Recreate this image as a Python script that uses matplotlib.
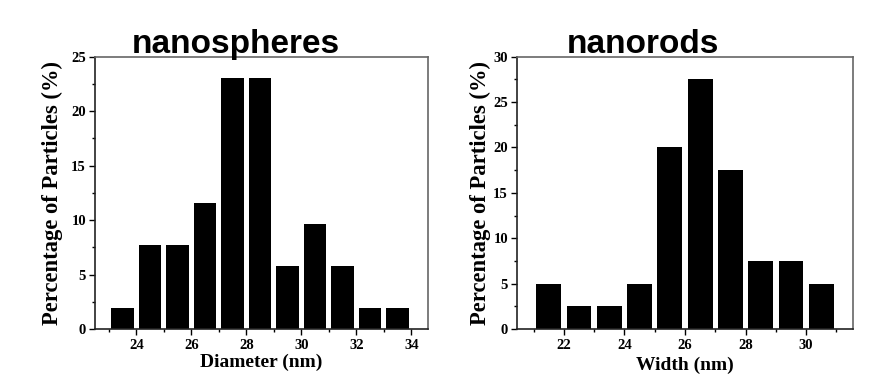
import matplotlib
matplotlib.use("Agg")
import matplotlib.pyplot as plt
from matplotlib.ticker import MultipleLocator

# ---- data ----
sphere_diam = [23.5, 24.5, 25.5, 26.5, 27.5, 28.5, 29.5, 30.5, 31.5, 32.5, 33.5]
sphere_pct = [1.92, 7.69, 7.69, 11.54, 23.08, 23.08, 5.77, 9.62, 5.77, 1.92, 1.92]
rod_width = [21.5, 22.5, 23.5, 24.5, 25.5, 26.5, 27.5, 28.5, 29.5, 30.5]
rod_pct = [5.0, 2.5, 2.5, 5.0, 20.0, 27.5, 17.5, 7.5, 7.5, 5.0]
sphere_xticks = [24, 26, 28, 30, 32, 34]
rod_xticks = [22, 24, 26, 28, 30]
sphere_yticks = [0, 5, 10, 15, 20, 25]
rod_yticks = [0, 5, 10, 15, 20, 25, 30]

serif = ["Liberation Serif", "DejaVu Serif"]
sans = ["Liberation Sans", "DejaVu Sans"]
plt.rcParams["font.family"] = serif
plt.rcParams["font.weight"] = "bold"

fig = plt.figure(figsize=(8.96, 3.8), dpi=100)
ax1 = fig.add_axes([95/896, 1-329/380, 333/896, 272.3/380])
ax2 = fig.add_axes([517/896, 1-329/380, 336/896, 272.3/380])

def style(ax, xticks, yticks, xlim, ylim, xlabel, ylx, xly):
    ax.set_xlim(*xlim)
    ax.set_ylim(*ylim)
    ax.set_xticks(xticks)
    ax.set_yticks(yticks)
    ax.xaxis.set_minor_locator(MultipleLocator(1))
    ax.yaxis.set_minor_locator(MultipleLocator(2.5))
    ax.tick_params(which="major", direction="out", length=4.5, width=1.0,
                   top=False, right=False, labelsize=10.5)
    ax.tick_params(axis="x", which="major", pad=3)
    ax.tick_params(axis="y", which="major", pad=2)
    ax.tick_params(which="minor", direction="out", length=2.5, width=1.0,
                   top=False, right=False)
    for s in ["left", "bottom"]:
        ax.spines[s].set_color("#222222")
        ax.spines[s].set_linewidth(1.2)
    for s in ["top", "right"]:
        ax.spines[s].set_color("#666666")
        ax.spines[s].set_linewidth(1.2)
    ax.set_xlabel(xlabel, fontweight="bold", fontsize=14)
    ax.set_ylabel("Percentage of Particles (%)", fontweight="bold", fontsize=16.3)
    ax.yaxis.set_label_coords(ylx, 0.5)
    ax.xaxis.set_label_coords(0.5, xly)

ax1.bar(sphere_diam, sphere_pct, width=0.82, color="black", edgecolor="none")
ax2.bar(rod_width, rod_pct, width=0.82, color="black", edgecolor="none")

style(ax1, sphere_xticks, sphere_yticks, (22.5, 34.6), (0, 25),
      "Diameter (nm)", -0.096, -0.092)
style(ax2, rod_xticks, rod_yticks, (20.45, 31.55), (0, 30),
      "Width (nm)", -0.077, -0.10)

fig.text(236/896, 1-53/380, "nanospheres", fontfamily=sans, fontweight="bold",
         fontsize=24, ha="center", va="baseline")
fig.text(643/896, 1-53/380, "nanorods", fontfamily=sans, fontweight="bold",
         fontsize=24, ha="center", va="baseline")

fig.savefig("out.png", dpi=100, facecolor="white")
